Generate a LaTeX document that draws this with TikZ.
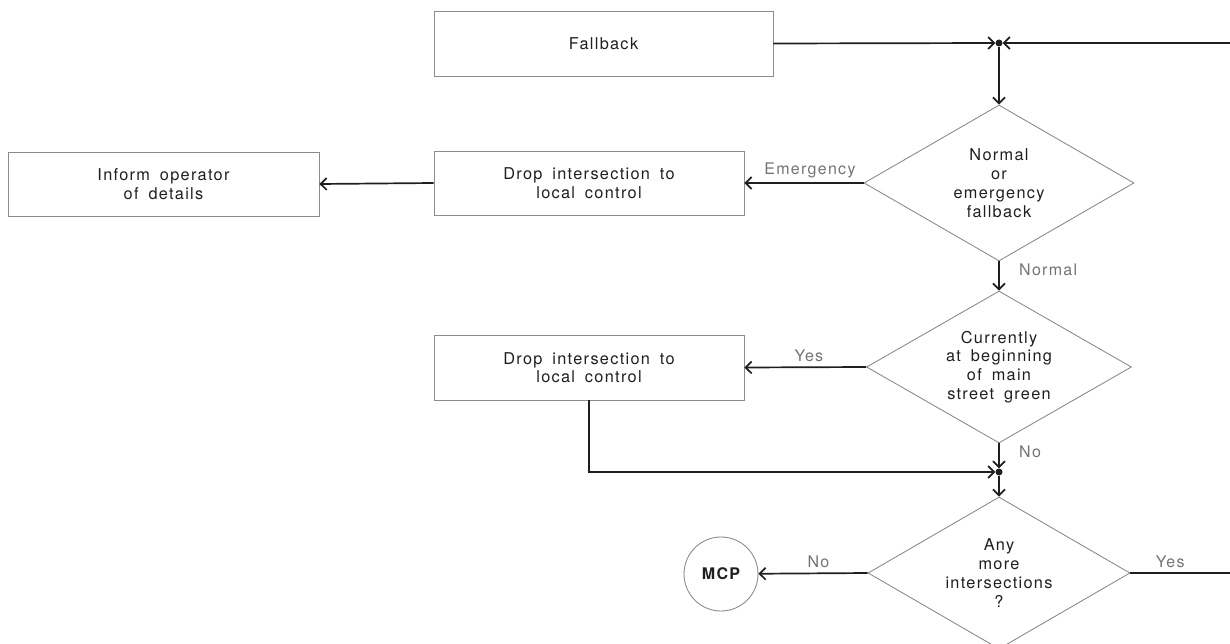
\documentclass[tikz,border=0pt]{standalone}
\usepackage{fontspec}
\setmainfont{TeX Gyre Heros}[LetterSpace=8,WordSpace=1.7]
\usetikzlibrary{shapes.geometric,arrows.meta}

\definecolor{ink}{gray}{0.12}
\definecolor{frame}{gray}{0.55}
\definecolor{note}{gray}{0.45}

\tikzset{
  box/.style={draw=frame, line width=0.9pt, inner sep=0pt, align=center,
    text=ink, font=\fontsize{16.3}{18.5}\selectfont},
  decision/.style={diamond, draw=frame, line width=0.9pt, inner sep=0pt,
    shape aspect=1.73, align=center, text=ink,
    font=\fontsize{16.3}{18.8}\selectfont},
  terminal/.style={circle, draw=frame, line width=0.9pt, inner sep=0pt,
    minimum size=74pt, text=ink, font=\fontsize{16}{18}\selectfont\bfseries},
  flow/.style={draw=ink, line width=1.7pt,
    -{Straight Barb[length=6pt,width=12pt,line width=1.7pt]}},
  plain/.style={draw=ink, line width=1.7pt},
  lbl/.style={text=note, font=\fontsize{16}{18}\selectfont},
  joint/.style={circle, fill=ink, inner sep=0pt, minimum size=7pt},
}

\begin{document}
\begin{tikzpicture}[x=1pt,y=-1pt]
  \useasboundingbox (0,0) rectangle (1230,644);

  % process boxes
  \node[box, minimum width=339pt, minimum height=65pt] (fallback) at (603.5,43.5) {Fallback};
  \node[box, minimum width=310pt, minimum height=64pt] (drop1) at (589,183) {Drop intersection to\\local control};
  \node[box, minimum width=311pt, minimum height=64pt] (inform) at (163.5,184) {Inform operator\\of details};
  \node[box, minimum width=310pt, minimum height=65pt] (drop2) at (589,367.5) {Drop intersection to\\local control};

  % decisions
  \node[decision, minimum width=270pt, minimum height=156pt] (mode) at (999,183)
    {Normal\\or\\emergency\\fallback};
  \node[decision, minimum width=265pt, minimum height=152pt] (green) at (999,367)
    {Currently\\at beginning\\of main\\street green};
  \node[decision, minimum width=262pt, minimum height=152pt] (more) at (999,573)
    {Any\\more\\intersections\\?};

  % terminal
  \node[terminal] (mcp) at (721,574) {MCP};

  % junctions and loop ends at the right margin
  \node[joint] (top) at (999,43) {};
  \node[joint] (merge) at (999,472) {};
  \coordinate (loopin) at (1235,43);
  \coordinate (loopout) at (1235,573);

  % connectors
  \draw[flow] (fallback.east) -- (top);
  \draw[flow] (loopin) -- (top);
  \draw[flow] (top) -- (mode.north);
  \draw[flow] (mode.west) -- node[lbl, above=1pt, pos=0.45] {Emergency} (drop1.east);
  \draw[flow] (drop1.west) -- (inform.east);
  \draw[flow] (mode.south) -- node[lbl, right=16pt, pos=0.3] {Normal} (green.north);
  \draw[flow] (green.west) -- node[lbl, above=1pt, pos=0.47] {Yes} (drop2.east);
  \draw[flow] (green.south) -- node[lbl, right=16pt, pos=0.35] {No} (merge);
  \draw[flow] (drop2.south) |- (merge);
  \draw[flow] (merge) -- (more.north);
  \draw[flow] (more.west) -- node[lbl, above=1pt, pos=0.45] {No} (mcp);
  \draw[plain] (more.east) -- node[lbl, above=1pt, pos=0.38] {Yes} (loopout);
\end{tikzpicture}
\end{document}
